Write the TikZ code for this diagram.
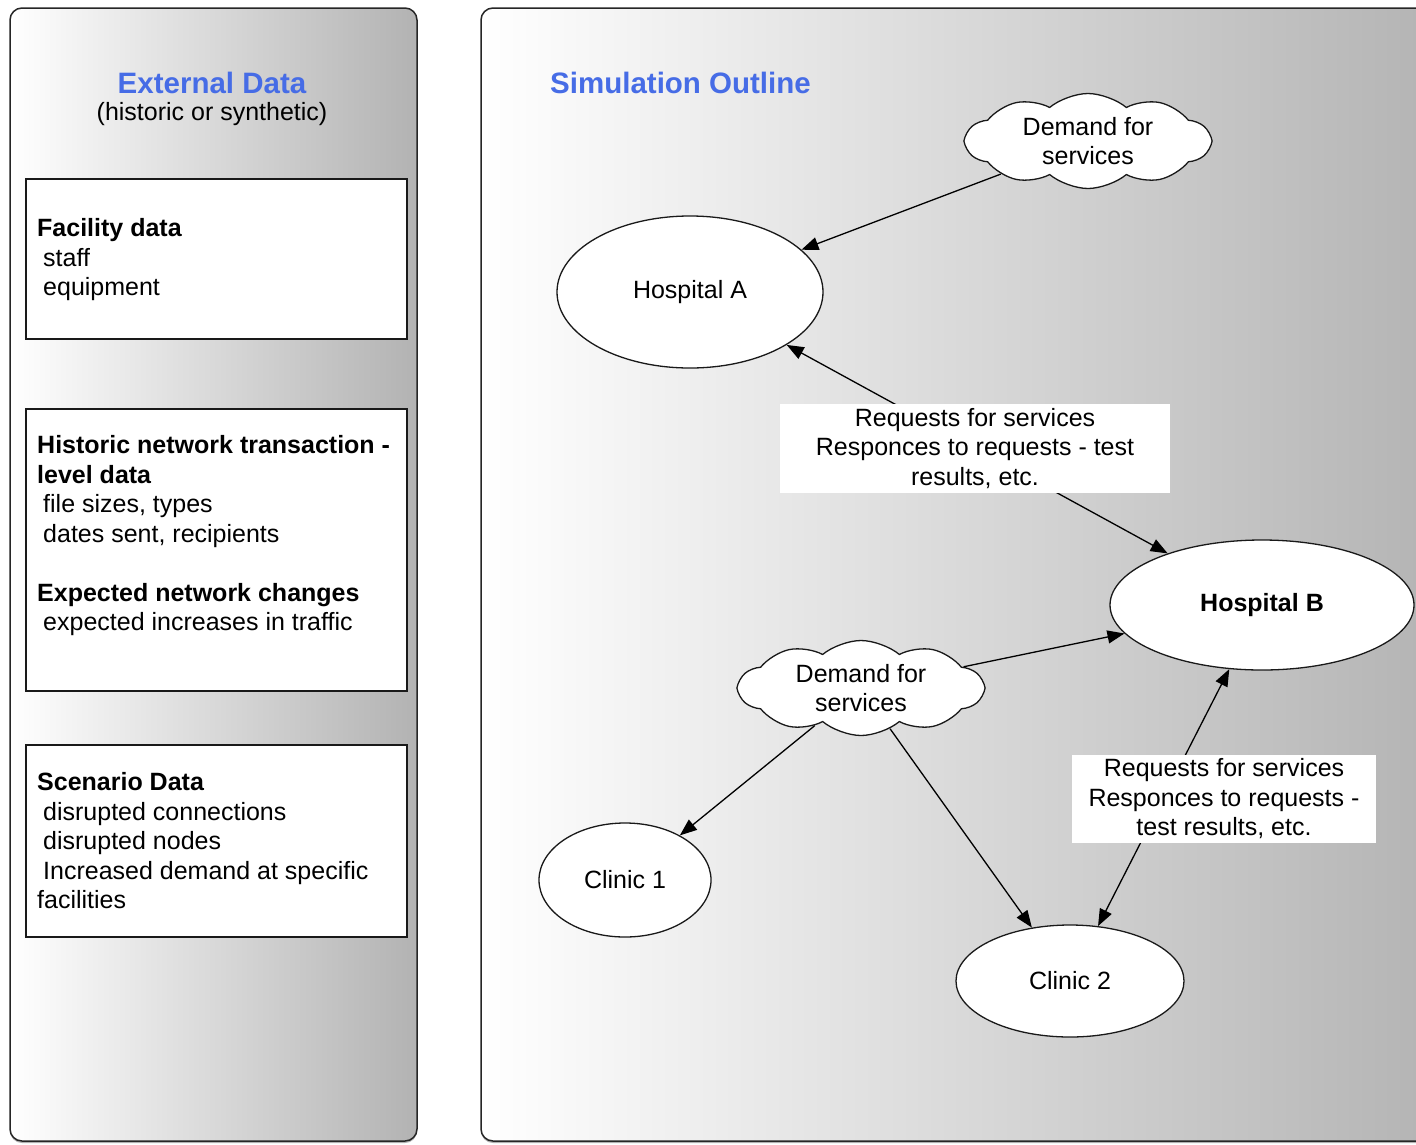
\documentclass[tikz,border=0pt]{standalone}
\usepackage{fontspec}
\setmainfont{Liberation Sans}
\usetikzlibrary{shapes.geometric,shapes.symbols,shadows,arrows.meta}
\definecolor{titleblue}{RGB}{70,108,230}
\newcommand\fsnorm{\fontsize{25}{29.5}\selectfont}
\newcommand\fstitle{\fontsize{29.5}{32}\selectfont\bfseries}
\begin{document}
\begin{tikzpicture}[x=1pt,y=-1pt,
  panel/.style={draw=black!85, line width=1.5pt, rounded corners=12pt, left color=white, right color=black!30,
    drop shadow={shadow xshift=0pt, shadow yshift=-2pt, opacity=0.3, fill=black}},
  databox/.style={draw=black!90, line width=2pt, fill=white, inner sep=0pt,
    drop shadow={shadow xshift=1pt, shadow yshift=-1pt, opacity=0.2, fill=black}},
  boxtext/.style={anchor=north west, inner sep=0pt, align=left, font=\fsnorm},
  bignode/.style={ellipse, draw=black!90, fill=white, line width=1.3pt, font=\fsnorm, inner sep=0pt},
  cloudnode/.style={cloud, cloud puffs=10, cloud puff arc=80, aspect=2.5, draw=black!90, fill=white,
    line width=1.3pt, align=center, font=\fsnorm, inner sep=0pt, minimum width=244, minimum height=95},
  lbl/.style={fill=white, align=center, font=\fsnorm, inner sep=0pt},
  conn/.style={line width=1.3pt, -{Triangle[length=17pt,width=13pt]}},
  conn2/.style={line width=1.3pt, {Triangle[length=17pt,width=13pt]}-{Triangle[length=17pt,width=13pt]}},
  ttl/.style={font=\fstitle, text=titleblue, inner sep=0pt}
]
\useasboundingbox (0,0) rectangle (1416,1144);
\clip (0,0) rectangle (1416,1144);
\fill[white] (0,0) rectangle (1416,1144);

% panels
\draw[panel] (10,8) rectangle (417,1141);
\draw[panel] (481,8) rectangle (1450,1141);

% left panel
\node[ttl] (exttitle) at (212,83) {External Data};
\node[font=\fsnorm, inner sep=0pt] (extsub) at (212,114) {(historic or synthetic)};

\node[databox, minimum width=381, minimum height=160] (fac) at (216.5,259) {};
\node[boxtext] (factext) at (37,218.5) {\textbf{Facility data}\\\hspace*{6pt}staff\\\hspace*{6pt}equipment};

\node[databox, minimum width=381, minimum height=282] (hist) at (216.5,550) {};
\node[boxtext] (histtext) at (37,435.5) {\textbf{Historic network transaction -}\\\textbf{level data}\\\hspace*{6pt}file sizes, types\\\hspace*{6pt}dates sent, recipients\\[29.5pt]\textbf{Expected network changes}\\\hspace*{6pt}expected increases in traffic};

\node[databox, minimum width=381, minimum height=192] (scen) at (216.5,841) {};
\node[boxtext] (scentext) at (37,772.5) {\textbf{Scenario Data}\\\hspace*{6pt}disrupted connections\\\hspace*{6pt}disrupted nodes\\\hspace*{6pt}Increased demand at specific\\facilities};

% right panel
\node[ttl, anchor=west] (simtitle) at (550,83) {Simulation Outline};

\node[cloudnode] (cloudA) at (1088,141) {Demand for\\services};
\node[bignode, minimum width=266, minimum height=152] (hospA) at (690,292) {Hospital A};
\node[bignode, minimum width=304, minimum height=130, font=\fsnorm\bfseries] (hospB) at (1262,605) {Hospital B};
\node[cloudnode] (cloudB) at (861,688) {Demand for\\services};
\node[bignode, minimum width=172, minimum height=114] (clin1) at (625,880) {Clinic 1};
\node[bignode, minimum width=228, minimum height=112] (clin2) at (1070,981) {Clinic 2};

\draw[conn] (cloudA) -- (hospA);
\draw[conn2] (hospA) -- (hospB);
\draw[conn] (cloudB) -- (hospB);
\draw[conn] (cloudB) -- (clin1);
\draw[conn] (cloudB) -- (clin2);
\draw[conn2] (hospB) -- (clin2);

\node[lbl, minimum width=390, minimum height=89] (lblA) at (975,448.5) {Requests for services\\Responces to requests - test\\results, etc.};
\node[lbl, minimum width=304, minimum height=88] (lblB) at (1224,799) {Requests for services\\Responces to requests -\\test results, etc.};
\end{tikzpicture}
\end{document}
